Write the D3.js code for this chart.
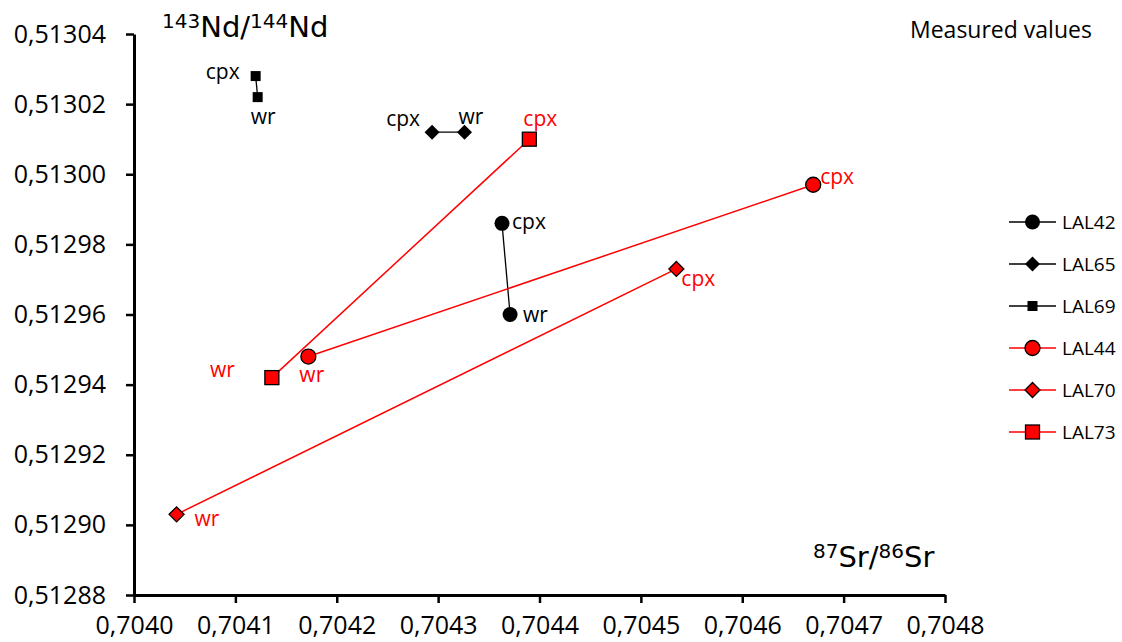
<!DOCTYPE html>
<html>
<head>
<meta charset="utf-8">
<script src="https://cdn.jsdelivr.net/npm/d3@7"></script>
<style>
  body { margin: 0; background: #ffffff; }
  svg { display: block; }
</style>
</head>
<body>
<svg id="chart" width="1122" height="642"></svg>
<script>
// Sample series: each one links a clinopyroxene (cpx) and a whole-rock (wr) analysis
const seriesNames  = ["LAL42", "LAL65", "LAL69", "LAL44", "LAL70", "LAL73"];
const seriesColors = ["#000000", "#000000", "#000000", "#ff0000", "#ff0000", "#ff0000"];
const seriesShapes = ["circle", "diamond", "square", "circle", "diamond", "square"];

// 87Sr/86Sr and 143Nd/144Nd, clinopyroxene
const cpxSr = [0.704363, 0.704294, 0.704120, 0.704670, 0.704535, 0.704390];
const cpxNd = [0.512986, 0.513012, 0.513028, 0.512997, 0.512973, 0.513010];
// 87Sr/86Sr and 143Nd/144Nd, whole rock
const wrSr  = [0.704371, 0.704326, 0.704122, 0.704172, 0.704042, 0.704136];
const wrNd  = [0.512960, 0.513012, 0.513022, 0.512948, 0.512903, 0.512942];

const xTicks = [0.7040, 0.7041, 0.7042, 0.7043, 0.7044, 0.7045, 0.7046, 0.7047, 0.7048];
const yTicks = [0.51288, 0.51290, 0.51292, 0.51294, 0.51296, 0.51298, 0.51300, 0.51302, 0.51304];

// label placement next to each point: [dx, dy, anchor]
const cpxLabelPos = [[10, 6, "start"], [-12, -6, "end"], [-16, 3, "end"], [7, -1, "start"], [5, 17, "start"], [-6, -13, "start"]];
const wrLabelPos  = [[13, 7, "start"], [-6, -8, "start"], [-7, 27, "start"], [-9, 25, "start"], [18, 12, "start"], [-37, -1, "end"]];

const svg = d3.select("#chart");
const plot = { left: 134, right: 945, top: 34, bottom: 595 };

const x = d3.scaleLinear().domain([0.7040, 0.7048]).range([plot.left, plot.right]);
const y = d3.scaleLinear().domain([0.51288, 0.51304]).range([plot.bottom, plot.top]);

const fmtX = d => d3.format(".4f")(d).replace(".", ",");
const fmtY = d => d3.format(".5f")(d).replace(".", ",");

const tickFont = "'Open Sans', sans-serif";

// axes
const gx = svg.append("g")
  .attr("transform", `translate(0,${plot.bottom})`)
  .call(d3.axisBottom(x).tickValues(xTicks).tickFormat(fmtX).tickSize(8).tickSizeOuter(0).tickPadding(13));
const gy = svg.append("g")
  .attr("transform", `translate(${plot.left},0)`)
  .call(d3.axisLeft(y).tickValues(yTicks).tickFormat(fmtY).tickSize(8).tickSizeOuter(0).tickPadding(20));

[gx, gy].forEach(g => {
  g.select(".domain").attr("stroke", "#000").attr("stroke-width", 3);
  g.selectAll(".tick line").attr("stroke", "#000").attr("stroke-width", 2.5);
  g.selectAll(".tick text")
    .attr("fill", "#000")
    .style("font-family", tickFont)
    .style("font-size", "25px");
});

// axis titles with superscript mass numbers
function isotopeTitle(xPos, yPos, parts, mainSize, supSize) {
  const t = svg.append("text")
    .attr("x", xPos).attr("y", yPos)
    .style("font-family", "'DejaVu Sans', sans-serif")
    .attr("fill", "#000");
  let raised = false;
  parts.forEach(p => {
    let dy = 0;
    if (p.sup && !raised) { dy = -9; raised = true; }
    else if (!p.sup && raised) { dy = 9; raised = false; }
    t.append("tspan")
      .attr("dy", dy)
      .style("font-size", (p.sup ? supSize : mainSize) + "px")
      .text(p.text);
  });
  return t;
}
isotopeTitle(162, 37, [
  { text: "143", sup: true }, { text: "Nd/" }, { text: "144", sup: true }, { text: "Nd" }
], 29, 20);
isotopeTitle(813, 567, [
  { text: "87", sup: true }, { text: "Sr/" }, { text: "86", sup: true }, { text: "Sr" }
], 29, 20);

svg.append("text")
  .attr("x", 910).attr("y", 38)
  .style("font-family", tickFont).style("font-size", "23px")
  .attr("fill", "#000")
  .text("Measured values");

// marker symbols
function drawMarker(g, shape, color, cx, cy) {
  const red = color !== "#000000";
  const stroke = red ? "#000" : "none";
  if (shape === "circle") {
    g.append("circle").attr("cx", cx).attr("cy", cy).attr("r", 7.5)
      .attr("fill", color).attr("stroke", stroke).attr("stroke-width", 1.3);
  } else if (shape === "diamond") {
    const h = 7.5;
    g.append("path")
      .attr("d", `M${cx},${cy - h}L${cx + h},${cy}L${cx},${cy + h}L${cx - h},${cy}Z`)
      .attr("fill", color).attr("stroke", stroke).attr("stroke-width", 1.3);
  } else {
    const s = red ? 14 : 10;
    g.append("rect").attr("x", cx - s / 2).attr("y", cy - s / 2)
      .attr("width", s).attr("height", s)
      .attr("fill", color).attr("stroke", stroke).attr("stroke-width", 1.3);
  }
}

// tie lines between cpx and wr for every sample
const lines = svg.append("g");
seriesNames.forEach((name, i) => {
  lines.append("line")
    .attr("x1", x(cpxSr[i])).attr("y1", y(cpxNd[i]))
    .attr("x2", x(wrSr[i])).attr("y2", y(wrNd[i]))
    .attr("stroke", seriesColors[i])
    .attr("stroke-width", seriesColors[i] === "#000000" ? 1.3 : 1.5);
});

const marks = svg.append("g");
const labels = svg.append("g")
  .style("font-family", tickFont).style("font-size", "21px");
seriesNames.forEach((name, i) => {
  const pts = [
    { sr: cpxSr[i], nd: cpxNd[i], lab: "cpx", pos: cpxLabelPos[i] },
    { sr: wrSr[i],  nd: wrNd[i],  lab: "wr",  pos: wrLabelPos[i] }
  ];
  pts.forEach(p => {
    const px = x(p.sr), py = y(p.nd);
    drawMarker(marks, seriesShapes[i], seriesColors[i], px, py);
    labels.append("text")
      .attr("x", px + p.pos[0]).attr("y", py + p.pos[1])
      .attr("text-anchor", p.pos[2])
      .attr("fill", seriesColors[i])
      .text(p.lab);
  });
});

// legend
const legend = svg.append("g");
seriesNames.forEach((name, i) => {
  const ly = 222 + i * 42;
  const row = legend.append("g");
  row.append("line").attr("x1", 1009).attr("x2", 1056).attr("y1", ly).attr("y2", ly)
    .attr("stroke", seriesColors[i]).attr("stroke-width", 1.5);
  drawMarker(row, seriesShapes[i], seriesColors[i], 1032.5, ly);
  row.append("text").attr("x", 1062).attr("y", ly + 7)
    .style("font-family", tickFont).style("font-size", "19px")
    .attr("fill", "#000").text(name);
});
</script>
</body>
</html>
